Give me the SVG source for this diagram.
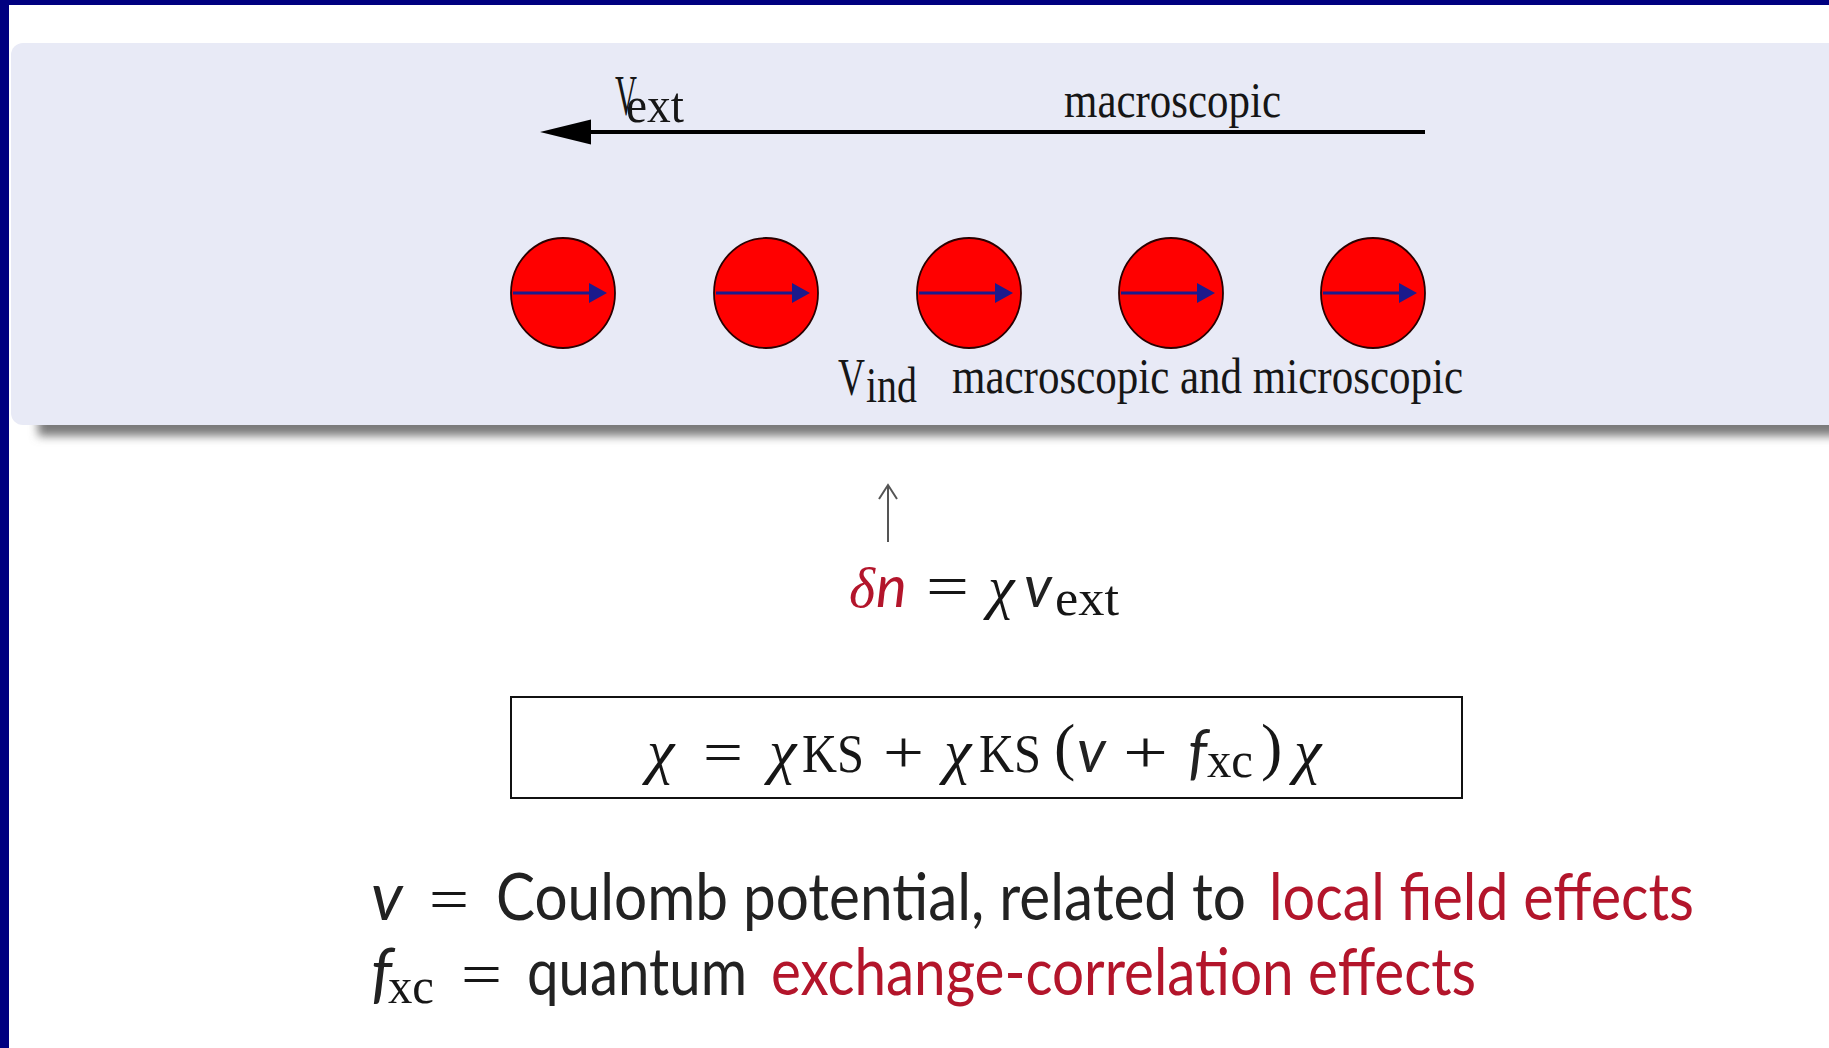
<svg xmlns="http://www.w3.org/2000/svg" width="1829" height="1048" viewBox="0 0 1829 1048">
<defs>
<filter id="sh" x="-5%" y="-20%" width="110%" height="140%"><feGaussianBlur stdDeviation="5"/></filter>
</defs>
<style>
.serif{font-family:"Liberation Serif","Times New Roman",serif;fill:#161616}
.sans{font-family:Lato,"Liberation Sans",sans-serif;fill:#222}
.it{font-style:italic}
.red{fill:#b3152b}
.ball{fill:#ff0000;stroke:#2a0000;stroke-width:1.8}
.barrow{stroke:#1c1a8c;stroke-width:3.2}
.bhead{fill:#1c1a8c}
</style>
<rect x="0" y="0" width="1829" height="1048" fill="#ffffff"/>
<rect x="0" y="0" width="1829" height="5" fill="#000080"/>
<rect x="0" y="0" width="9" height="1048" fill="#000080"/>

<g id="panel">
<rect x="38" y="56" width="1830" height="380" fill="#7a7a7a" filter="url(#sh)"/>
<rect x="11" y="43" width="1840" height="382" rx="12" fill="#e8eaf6"/>
</g>

<g id="connectors">
<line x1="586" y1="132" x2="1425" y2="132" stroke="#000" stroke-width="4"/>
<polygon points="540,132 591,119.5 591,144.5" fill="#000"/>
<line x1="888" y1="542" x2="888" y2="487" stroke="#555" stroke-width="2"/>
<path d="M879,499 L888,485 L897,499" fill="none" stroke="#555" stroke-width="2"/>
</g>

<g id="label-vext">
<text class="serif" x="615" y="115" font-size="56" textLength="22" lengthAdjust="spacingAndGlyphs">V</text>
<text class="serif" x="626" y="122" font-size="50" textLength="58" lengthAdjust="spacingAndGlyphs">ext</text>
</g>
<g id="label-macro">
<text class="serif" x="1064" y="117" font-size="50" textLength="217" lengthAdjust="spacingAndGlyphs">macroscopic</text>
</g>

<g id="ball-1">
<ellipse class="ball" cx="563" cy="293" rx="52" ry="55"/>
<line class="barrow" x1="513" y1="293" x2="592" y2="293"/>
<polygon class="bhead" points="607,293 589,283 589,303"/>
</g>
<g id="ball-2">
<ellipse class="ball" cx="766" cy="293" rx="52" ry="55"/>
<line class="barrow" x1="716" y1="293" x2="795" y2="293"/>
<polygon class="bhead" points="810,293 792,283 792,303"/>
</g>
<g id="ball-3">
<ellipse class="ball" cx="969" cy="293" rx="52" ry="55"/>
<line class="barrow" x1="919" y1="293" x2="998" y2="293"/>
<polygon class="bhead" points="1013,293 995,283 995,303"/>
</g>
<g id="ball-4">
<ellipse class="ball" cx="1171" cy="293" rx="52" ry="55"/>
<line class="barrow" x1="1121" y1="293" x2="1200" y2="293"/>
<polygon class="bhead" points="1215,293 1197,283 1197,303"/>
</g>
<g id="ball-5">
<ellipse class="ball" cx="1373" cy="293" rx="52" ry="55"/>
<line class="barrow" x1="1323" y1="293" x2="1402" y2="293"/>
<polygon class="bhead" points="1417,293 1399,283 1399,303"/>
</g>

<g id="label-vind">
<text class="serif" x="838" y="395" font-size="53" textLength="27" lengthAdjust="spacingAndGlyphs">V</text>
<text class="serif" x="866" y="402" font-size="50" textLength="51" lengthAdjust="spacingAndGlyphs">ind</text>
<text class="serif" x="952" y="393" font-size="50" textLength="511" lengthAdjust="spacingAndGlyphs">macroscopic and microscopic</text>
</g>

<g id="eq-dn">
<text class="serif it red" x="849" y="607" font-size="56">δ</text>
<text class="sans it red" x="876" y="607" font-size="58">n</text>
<text class="serif" x="926" y="607" font-size="62" textLength="43" lengthAdjust="spacingAndGlyphs">=</text>
<text class="serif it" x="988" y="607" font-size="60">χ</text>
<text class="sans it" x="1024" y="607" font-size="58">v</text>
<text class="serif" x="1055" y="615" font-size="50" textLength="64" lengthAdjust="spacingAndGlyphs">ext</text>
</g>

<g id="eq-box">
<rect x="511" y="697" width="951" height="101" fill="none" stroke="#111" stroke-width="2"/>
<text class="serif it" x="647" y="772" font-size="62">χ</text>
<text class="serif" x="703" y="772" font-size="60" textLength="40" lengthAdjust="spacingAndGlyphs">=</text>
<text class="serif it" x="769" y="772" font-size="62">χ</text>
<text class="serif" x="802" y="772" font-size="54" textLength="62" lengthAdjust="spacingAndGlyphs">KS</text>
<text class="serif" x="883" y="772" font-size="60" textLength="41" lengthAdjust="spacingAndGlyphs">+</text>
<text class="serif it" x="944" y="772" font-size="62">χ</text>
<text class="serif" x="979" y="772" font-size="54" textLength="62" lengthAdjust="spacingAndGlyphs">KS</text>
<text class="serif" x="1054" y="768" font-size="64">(</text>
<text class="sans it" x="1077" y="772" font-size="60">v</text>
<text class="serif" x="1123" y="772" font-size="60" textLength="45" lengthAdjust="spacingAndGlyphs">+</text>
<text class="sans it" x="1188" y="772" font-size="60">f</text>
<text class="serif" x="1207" y="777" font-size="50" textLength="46" lengthAdjust="spacingAndGlyphs">xc</text>
<text class="serif" x="1261" y="768" font-size="64">)</text>
<text class="serif it" x="1294" y="772" font-size="62">χ</text>
</g>

<g id="line-coulomb">
<text class="sans it" x="371" y="920" font-size="66">v</text>
<text class="serif" x="429" y="920" font-size="62" textLength="40" lengthAdjust="spacingAndGlyphs">=</text>
<text class="sans" x="496" y="920" font-size="66" textLength="750" lengthAdjust="spacingAndGlyphs">Coulomb potential, related to</text>
<text class="sans red" x="1269" y="920" font-size="66" textLength="425" lengthAdjust="spacingAndGlyphs">local field effects</text>
</g>

<g id="line-fxc">
<text class="sans it" x="371" y="995" font-size="66">f</text>
<text class="serif" x="388" y="1003" font-size="50" textLength="46" lengthAdjust="spacingAndGlyphs">xc</text>
<text class="serif" x="461" y="995" font-size="62" textLength="41" lengthAdjust="spacingAndGlyphs">=</text>
<text class="sans" x="527" y="995" font-size="66" textLength="220" lengthAdjust="spacingAndGlyphs">quantum</text>
<text class="sans red" x="771" y="995" font-size="66" textLength="705" lengthAdjust="spacingAndGlyphs">exchange-correlation effects</text>
</g>
</svg>
